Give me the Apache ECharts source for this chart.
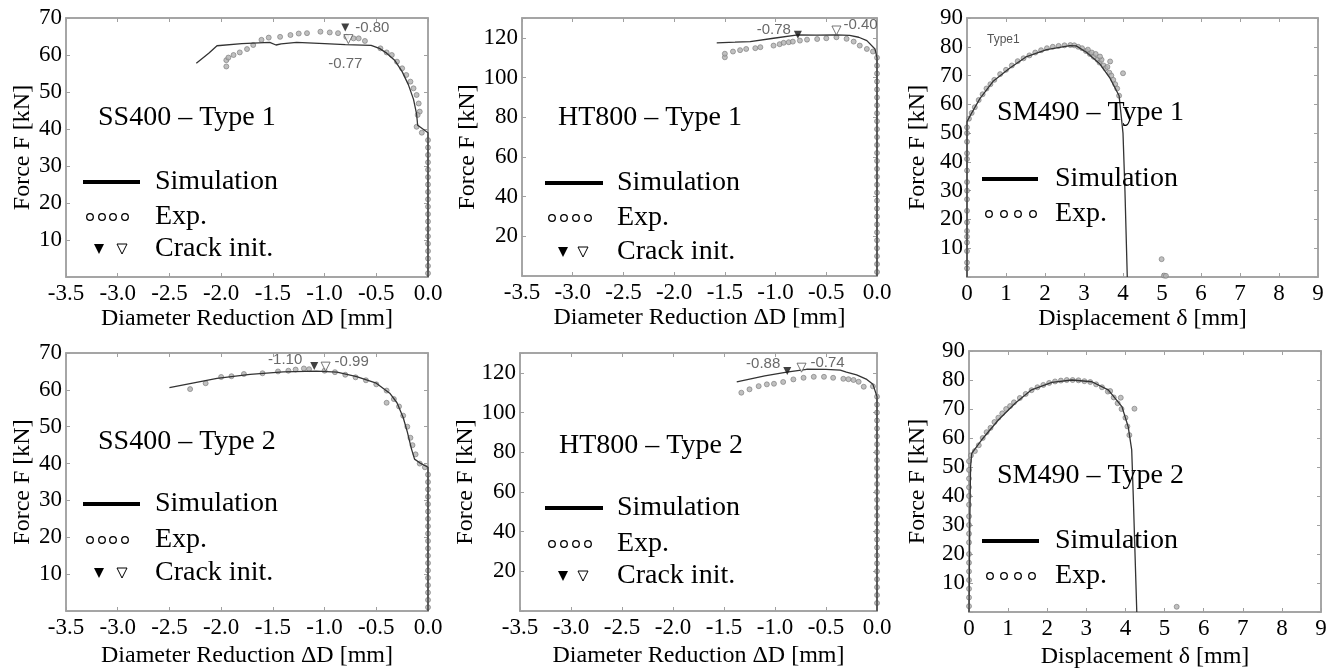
<!DOCTYPE html>
<html>
<head>
<meta charset="utf-8">
<script src="https://cdn.jsdelivr.net/npm/echarts@6/dist/echarts.min.js"></script>
<style>
html,body{margin:0;padding:0;background:#fff;}
#chart{width:1338px;height:672px;}
</style>
</head>
<body>
<div id="chart"></div>
<script>
// ---------- tick arrays ----------
const ddTicks = [-3.5, -3.0, -2.5, -2.0, -1.5, -1.0, -0.5, 0.0];
const dispTicks = [0, 1, 2, 3, 4, 5, 6, 7, 8, 9];
const forceTicksSS = [0, 10, 20, 30, 40, 50, 60, 70];
const forceTicksHT = [0, 20, 40, 60, 80, 100, 120];
const forceMaxHT = 130;
const forceTicksSM = [0, 10, 20, 30, 40, 50, 60, 70, 80, 90];

// ---------- SS400 Type 1 ----------
const ss1Sim = [[0,0],[0,39],[-0.04,39.8],[-0.1,41],[-0.11,44],[-0.14,48],[-0.19,52],[-0.25,55.5],[-0.32,58.5],[-0.4,60.5],[-0.47,61.8],[-0.55,62.6],[-0.8,62.8],[-1.0,63.1],[-1.27,63.4],[-1.42,63],[-1.47,62.7],[-1.53,63.4],[-1.8,63.1],[-2.04,62.5],[-2.12,60.5],[-2.24,57.8]];
const ss1Exp = [[-1.95,56.9],[-1.95,58.6],[-1.93,59.3],[-1.88,60],[-1.82,60.7],[-1.75,61.6],[-1.69,62.7],[-1.61,64.1],[-1.54,64.7],[-1.43,64.9],[-1.33,65.4],[-1.25,65.8],[-1.17,65.9],[-1.04,66.3],[-0.95,66.1],[-0.87,65.9],[-0.79,64.9],[-0.72,64.5],[-0.67,64.5],[-0.61,63.8],[-0.46,61.8],[-0.40,60.7],[-0.35,60],[-0.30,58.2],[-0.25,56.4],[-0.21,54.6],[-0.17,52.8],[-0.14,51],[-0.11,49.2],[-0.09,46.9],[-0.08,44.7],[-0.10,43.8],[-0.11,40.6],[-0.06,39],[0,37],[0,35],[0,33],[0,31],[0,29],[0,27],[0,25],[0,23],[0,21],[0,19],[0,17],[0,15],[0,13],[0,11],[0,9],[0,7],[0,5],[0,3],[0,1]];
const ss1CrackSim = [[-0.80,67.4]];
const ss1CrackExp = [[-0.77,64.3]];

// ---------- HT800 Type 1 ----------
const ht1Sim = [[0,0],[0,110],[-0.02,114.4],[-0.1,118.6],[-0.18,120.3],[-0.27,121.2],[-0.4,121.5],[-0.6,121.4],[-0.78,121.5],[-1.02,119.8],[-1.25,118.1],[-1.4,117.8],[-1.58,117.5]];
const ht1Exp = [[-1.5,110.2],[-1.5,112],[-1.42,113.1],[-1.35,113.8],[-1.29,114.4],[-1.2,114.8],[-1.15,115.3],[-1.02,116.1],[-0.96,116.8],[-0.92,117.5],[-0.87,117.8],[-0.83,118.1],[-0.76,118.6],[-0.69,119.1],[-0.59,119.4],[-0.5,119.8],[-0.40,120.3],[-0.30,119.5],[-0.23,118.1],[-0.17,116.1],[-0.10,114.4],[-0.04,113.1],[0,110],[0,106],[0,102],[0,98],[0,94],[0,90],[0,86],[0,82],[0,78],[0,74],[0,70],[0,66],[0,62],[0,58],[0,54],[0,50],[0,46],[0,42],[0,38],[0,34],[0,30],[0,26],[0,22],[0,18],[0,14],[0,10],[0,6],[0,2]];
const ht1CrackSim = [[-0.78,121.5]];
const ht1CrackExp = [[-0.40,123.7]];

// ---------- SM490 Type 1 ----------
const sm1Sim = [[0,0],[0,54],[0.1,56.5],[0.33,62],[0.67,68],[1.1,72.6],[1.53,76.6],[2.04,79],[2.64,80.4],[2.8,80.3],[3.07,78],[3.41,74],[3.67,69],[3.9,63],[4.0,50],[4.05,30],[4.11,0]];
const sm1Exp = [[0,3],[0,5],[0,9],[0,12],[0,14],[0,16],[0,19],[0,23],[0,27],[0,30],[0,33],[0,37],[0,41],[0,43],[0,47],[0,50],[0,52],[0.05,55],[0.12,57],[0.2,59],[0.3,61.5],[0.4,63.5],[0.5,65.5],[0.6,67],[0.7,68.5],[0.85,70.5],[1.0,72],[1.15,73.5],[1.3,75],[1.45,76],[1.6,77],[1.75,78],[1.9,78.8],[2.05,79.5],[2.2,80],[2.35,80.3],[2.5,80.5],[2.65,80.6],[2.75,80.5],[2.85,80],[2.95,79.5],[3.05,78.5],[3.1,79],[3.15,77.5],[3.2,78],[3.25,76.5],[3.3,77.5],[3.35,75.5],[3.4,74.5],[3.45,75.5],[3.5,73.5],[3.55,72.5],[3.6,73],[3.65,71],[3.7,70],[3.75,68.5],[3.8,67],[3.85,65.5],[3.9,63],[3.41,76.6],[3.67,74.9],[4.0,70.8],[4.99,6.2],[5.05,0.5],[5.1,0.4]];

// ---------- SS400 Type 2 ----------
const ss2Sim = [[0,0],[0,39],[-0.01,39.3],[-0.08,40.2],[-0.13,41.2],[-0.16,44],[-0.2,48.6],[-0.24,52.5],[-0.3,56.5],[-0.37,59.1],[-0.5,61.8],[-0.69,63.6],[-0.88,64.8],[-1.08,65.1],[-1.4,64.9],[-1.72,64.2],[-2.04,63.1],[-2.5,60.6]];
const ss2Exp = [[-2.3,60.2],[-2.15,61.8],[-2.0,63.5],[-1.9,63.7],[-1.78,64.3],[-1.6,64.5],[-1.45,65],[-1.35,65.2],[-1.28,65.5],[-1.2,65.8],[-1.15,65.6],[-1.0,65.2],[-0.9,64.8],[-0.8,64.1],[-0.7,63.4],[-0.6,62.6],[-0.5,61.5],[-0.4,59.8],[-0.4,56.5],[-0.33,57.5],[-0.28,55.5],[-0.24,53],[-0.2,50],[-0.17,47],[-0.15,45],[-0.12,42.5],[-0.08,40],[-0.03,39],[0,37],[0,35],[0,33],[0,31],[0,29],[0,27],[0,25],[0,23],[0,21],[0,19],[0,17],[0,15],[0,13],[0,11],[0,9],[0,7],[0,5],[0,3],[0,1]];
const ss2CrackSim = [[-1.10,66.5]];
const ss2CrackExp = [[-0.99,66.3]];

// ---------- HT800 Type 2 ----------
const ht2Sim = [[0,0],[0,108],[-0.04,114.2],[-0.1,116.7],[-0.2,119],[-0.3,120.4],[-0.36,121.4],[-0.5,121.7],[-0.69,121.8],[-0.885,120.4],[-1.1,118.5],[-1.375,115.4]];
const ht2Exp = [[-1.33,110],[-1.25,111.7],[-1.16,113.3],[-1.08,114.2],[-1.01,114.5],[-0.92,115.4],[-0.82,116.7],[-0.72,117.5],[-0.62,118],[-0.52,118],[-0.43,117.5],[-0.33,117],[-0.28,116.8],[-0.23,116.4],[-0.18,115.5],[-0.13,113],[-0.04,113.2],[0,108],[0,104],[0,100],[0,96],[0,92],[0,88],[0,84],[0,80],[0,76],[0,72],[0,68],[0,64],[0,60],[0,56],[0,52],[0,48],[0,44],[0,40],[0,36],[0,32],[0,28],[0,24],[0,20],[0,16],[0,12],[0,8],[0,4]];
const ht2CrackSim = [[-0.88,120.9]];
const ht2CrackExp = [[-0.74,122.6]];

// ---------- SM490 Type 2 ----------
const sm2Sim = [[0,0],[0.02,30],[0.04,50],[0.07,54.7],[0.32,59.3],[0.75,66.2],[1.18,72],[1.6,76.6],[2.12,79.2],[2.63,80],[3.14,79.4],[3.56,76.6],[3.91,70.8],[4.07,63.9],[4.16,55.9],[4.2,40],[4.29,0]];
const sm2Exp = [[0,2],[0,5],[0,8],[0,11],[0,14],[0,17],[0,20],[0,24],[0,27],[0,30],[0,33],[0,37],[0,40],[0,43],[0,46],[0,49],[0,52],[0.05,54],[0.15,55.5],[0.25,57.5],[0.35,60],[0.45,62],[0.55,63.5],[0.65,65.5],[0.75,67],[0.85,68.5],[0.95,70],[1.05,71],[1.15,72.3],[1.3,73.8],[1.45,75.2],[1.6,76.5],[1.75,77.5],[1.9,78.3],[2.05,79],[2.2,79.5],[2.35,79.8],[2.5,80],[2.65,80],[2.8,79.9],[2.95,79.6],[3.1,79.3],[3.25,78.5],[3.4,77.5],[3.55,76],[3.7,74],[3.8,72],[3.9,70],[4.0,67],[4.05,64],[4.1,61],[3.61,76.2],[3.88,73.9],[4.23,70.1],[5.31,1.8]];

// ---------- build ----------
const SERIF = '"Liberation Serif", "DejaVu Serif", serif';
const SANS = '"Liberation Sans", "DejaVu Sans", sans-serif';
const FRAME = '#a0a0a0';

const panels = [
  {grid:{left:66,top:18,width:362,height:259}, xt:ddTicks, yt:forceTicksSS, ymax:70, xname:'Diameter Reduction ΔD [mm]', dec:1, ygap:29, xgap:30,
   sim:ss1Sim, exp:ss1Exp, cs:ss1CrackSim, ce:ss1CrackExp,
   csLab:{position:'right',distance:6,offset:[0,0]}, ceLab:{position:'bottom',distance:12,offset:[-3,0]},
   title:'SS400 – Type 1', tx:98, ty:118, lg:{x1:83,x2:140,tx:155,yl:182,ye:217,yc:249,cx:[90,102,113,125],t1:99,t2:122}},
  {grid:{left:522,top:18,width:355,height:258}, xt:ddTicks, yt:forceTicksHT, ymax:forceMaxHT, xname:'Diameter Reduction ΔD [mm]', dec:1, ygap:42, xgap:30,
   sim:ht1Sim, exp:ht1Exp, cs:ht1CrackSim, ce:ht1CrackExp,
   csLab:{position:'left',distance:3,offset:[0,-5]}, ceLab:{position:'right',distance:2,offset:[0,-6]},
   title:'HT800 – Type 1', tx:558, ty:118, lg:{x1:545,x2:603,tx:617,yl:183,ye:218,yc:252,cx:[552,564,576,588],t1:563,t2:583}},
  {grid:{left:967,top:18,width:351,height:259}, xt:dispTicks, yt:forceTicksSM, ymax:90, xname:'Displacement δ [mm]', dec:0, ygap:37, xgap:30,
   sim:sm1Sim, exp:sm1Exp, cs:null, ce:null,
   title:'SM490 – Type 1', tx:997, ty:113, lg:{x1:982,x2:1038,tx:1055,yl:179,ye:214,yc:null,cx:[989,1004,1018,1033]}},
  {grid:{left:66,top:353,width:362,height:258}, xt:ddTicks, yt:forceTicksSS, ymax:70, xname:'Diameter Reduction ΔD [mm]', dec:1, ygap:31, xgap:33,
   sim:ss2Sim, exp:ss2Exp, cs:ss2CrackSim, ce:ss2CrackExp,
   csLab:{position:'left',distance:8,offset:[0,-6]}, ceLab:{position:'right',distance:4,offset:[0,-5]},
   title:'SS400 – Type 2', tx:98, ty:442, lg:{x1:83,x2:140,tx:155,yl:504,ye:540,yc:573,cx:[90,102,113,125],t1:99,t2:122}},
  {grid:{left:520,top:353,width:357,height:258}, xt:ddTicks, yt:forceTicksHT, ymax:forceMaxHT, xname:'Diameter Reduction ΔD [mm]', dec:1, ygap:40, xgap:33,
   sim:ht2Sim, exp:ht2Exp, cs:ht2CrackSim, ce:ht2CrackExp,
   csLab:{position:'left',distance:3,offset:[0,-7]}, ceLab:{position:'right',distance:4,offset:[0,-5]},
   title:'HT800 – Type 2', tx:559, ty:446, lg:{x1:545,x2:603,tx:617,yl:508,ye:544,yc:576,cx:[552,564,576,588],t1:563,t2:583}},
  {grid:{left:969,top:351,width:352,height:261}, xt:dispTicks, yt:forceTicksSM, ymax:90, xname:'Displacement δ [mm]', dec:0, ygap:39, xgap:33,
   sim:sm2Sim, exp:sm2Exp, cs:null, ce:null,
   title:'SM490 – Type 2', tx:997, ty:476, lg:{x1:982,x2:1039,tx:1055,yl:541,ye:576,yc:null,cx:[990,1004,1018,1032]}}
];

const grids = [], xAxes = [], yAxes = [], series = [], graphics = [];

function axisBase() {
  return {
    axisLine:{show:true, onZero:false, lineStyle:{color:FRAME, width:1.5}},
    axisTick:{show:true, inside:true, length:4, lineStyle:{color:FRAME, width:1}},
    splitLine:{show:false}
  };
}

function textEl(x, y, text, size, font, color, align) {
  return {type:'text', x:x, y:y, z:100, silent:true,
    style:{text:text, font: size + 'px ' + font, fill: color || '#000',
      align: align || 'left', verticalAlign:'middle', textAlign: align || 'left', textVerticalAlign:'middle'}};
}

panels.forEach((p, i) => {
  grids.push(Object.assign({show:true, borderColor:FRAME, borderWidth:1.5, backgroundColor:'#fff'}, p.grid));
  const xmin = p.xt[0], xmax = p.xt[p.xt.length-1], xint = p.xt[1]-p.xt[0];
  const ymin = p.yt[0], yint = p.yt[1]-p.yt[0];
  const xb = axisBase();
  xAxes.push(Object.assign(xb, {
    type:'value', gridIndex:i, position:'bottom', min:xmin, max:xmax, interval:xint,
    name:p.xname, nameLocation:'middle', nameGap:p.xgap,
    nameTextStyle:{fontFamily:SERIF, fontSize:24, color:'#000'},
    axisLabel:{show:true, margin:5, fontFamily:SERIF, fontSize:23, color:'#000',
      formatter: v => v.toFixed(p.dec)}
  }));
  const xt = axisBase();
  xAxes.push(Object.assign(xt, {type:'value', gridIndex:i, position:'top', min:xmin, max:xmax, interval:xint, axisLabel:{show:false}}));
  const yl = axisBase();
  yAxes.push(Object.assign(yl, {
    type:'value', gridIndex:i, position:'left', min:ymin, max:p.ymax, interval:yint,
    name:'Force F [kN]', nameLocation:'middle', nameGap:p.ygap,
    nameTextStyle:{fontFamily:SERIF, fontSize:24, color:'#000'},
    axisLabel:{show:true, margin:4, fontFamily:SERIF, fontSize:23, color:'#000',
      formatter: v => (v === 0 || p.yt.indexOf(v) < 0) ? '' : String(v)}
  }));
  const yr = axisBase();
  yAxes.push(Object.assign(yr, {type:'value', gridIndex:i, position:'right', min:ymin, max:p.ymax, interval:yint, axisLabel:{show:false}}));

  const xi = 2*i, yi = 2*i;
  series.push({type:'scatter', xAxisIndex:xi, yAxisIndex:yi, data:p.exp, symbol:'circle', symbolSize:5,
    itemStyle:{color:'#b0b0b0', borderColor:'#777', borderWidth:0.8}, z:2, silent:true});
  series.push({type:'line', xAxisIndex:xi, yAxisIndex:yi, data:p.sim, showSymbol:false, symbol:'none',
    lineStyle:{color:'#333', width:1.3}, z:3, silent:true});
  const lab = {show:true, formatter: q => q.value[0].toFixed(2), fontFamily:SANS, fontSize:15, color:'#444'};
  if (p.cs) {
    series.push({type:'scatter', xAxisIndex:xi, yAxisIndex:yi, symbol:'triangle', symbolRotate:180, symbolSize:8,
      itemStyle:{color:'#111'}, z:4, silent:true, label:lab,
      data:p.cs.map(d => ({value:d, label:p.csLab}))});
    series.push({type:'scatter', xAxisIndex:xi, yAxisIndex:yi, symbol:'triangle', symbolRotate:180, symbolSize:9,
      itemStyle:{color:'#fff', borderColor:'#555', borderWidth:1}, z:4, silent:true, label:lab,
      data:p.ce.map(d => ({value:d, label:p.ceLab}))});
  }
  // panel label
  graphics.push(textEl(p.tx, p.ty, p.title, 28, SERIF));
  // legend
  const L = p.lg;
  graphics.push({type:'line', z:100, silent:true, shape:{x1:L.x1, y1:L.yl, x2:L.x2, y2:L.yl}, style:{stroke:'#000', lineWidth:4}});
  graphics.push(textEl(L.tx, L.yl, 'Simulation', 28, SERIF));
  L.cx.forEach(cx => graphics.push({type:'circle', z:100, silent:true, shape:{cx:cx, cy:L.ye, r:3.3}, style:{fill:'#fff', stroke:'#000', lineWidth:1.3}}));
  graphics.push(textEl(L.tx, L.ye, 'Exp.', 28, SERIF));
  if (L.yc) {
    graphics.push({type:'polygon', z:100, silent:true, shape:{points:[[L.t1-5,L.yc-5],[L.t1+5,L.yc-5],[L.t1,L.yc+5]]}, style:{fill:'#000'}});
    graphics.push({type:'polygon', z:100, silent:true, shape:{points:[[L.t2-5,L.yc-5],[L.t2+5,L.yc-5],[L.t2,L.yc+5]]}, style:{fill:'#fff', stroke:'#000', lineWidth:1}});
    graphics.push(textEl(L.tx, L.yc, 'Crack init.', 28, SERIF));
  }
});
// small "Type1" tag in the SM490 Type 1 plot
graphics.push(textEl(987, 40, 'Type1', 12, SANS, '#555'));

const chart = echarts.init(document.getElementById('chart'), null, {renderer:'canvas'});
chart.setOption({
  animation:false,
  backgroundColor:'#fff',
  grid:grids, xAxis:xAxes, yAxis:yAxes, series:series,
  graphic:{elements:graphics}
});
</script>
</body>
</html>
